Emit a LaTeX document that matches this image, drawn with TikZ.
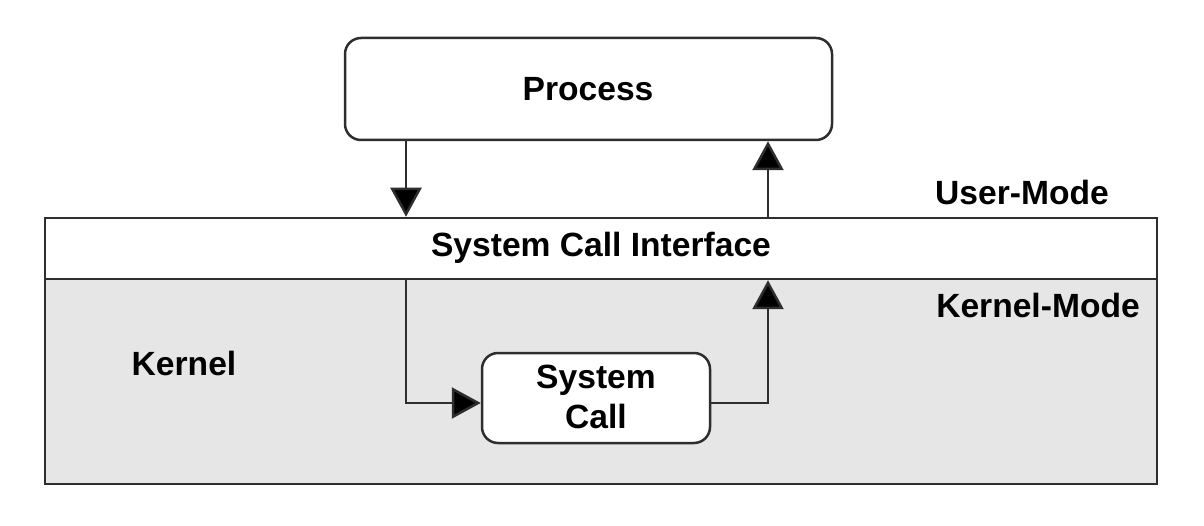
\documentclass[tikz,border=0pt]{standalone}
\usepackage{fontspec}
\setmainfont{Liberation Sans}
\usetikzlibrary{arrows.meta}
\definecolor{linec}{HTML}{2E2E2E}
\definecolor{kgray}{HTML}{E6E6E6}
\tikzset{
  lbl/.style={font=\fontsize{33.6}{40}\selectfont\bfseries, inner sep=0pt, align=center},
  rbox/.style={draw=linec, line width=2.5pt, rounded corners=16pt, fill=white, inner sep=0pt},
  band/.style={draw=linec, line width=2.5pt, inner sep=0pt},
  arr/.style={draw=linec, line width=2.5pt, -{Triangle[length=29pt,width=31pt,fill=black]}}
}
\begin{document}
\begin{tikzpicture}[x=1pt,y=-1pt]
\useasboundingbox (0,0) rectangle (1204,526);
\fill[white] (0,0) rectangle (1204,526);
% kernel region and interface band
\node[band, fill=kgray, minimum width=1112pt, minimum height=205pt] (kernel) at (601,381.5) {};
\node[band, fill=white, minimum width=1112pt, minimum height=61pt] (sci) at (601,248.5) {};
\node[lbl] (scitext) at (601,248) {System Call Interface};
% process
\node[rbox, minimum width=487pt, minimum height=102pt] (process) at (588.5,89) {};
\node[lbl] (proctext) at (588,89) {Process};
% system call
\node[rbox, minimum width=228pt, minimum height=90pt] (syscall) at (596,398) {};
\node[lbl] (sctext) at (596,397) {System\\Call};
% labels
\node[lbl] (user) at (1022,192) {User-Mode};
\node[lbl] (kmode) at (1038,305) {Kernel-Mode};
\node[lbl] (ktext) at (184,363) {Kernel};
% connectors
\coordinate (dx) at (406,0);
\coordinate (ux) at (768,0);
\draw[arr] (process.south -| dx) -- (sci.north -| dx);
\draw[arr] (sci.north -| ux) -- (process.south -| ux);
\draw[arr] (sci.south -| dx) |- ([yshift=-5pt]syscall.west);
\draw[arr] ([yshift=-5pt]syscall.east) -| (sci.south -| ux);
\end{tikzpicture}
\end{document}
